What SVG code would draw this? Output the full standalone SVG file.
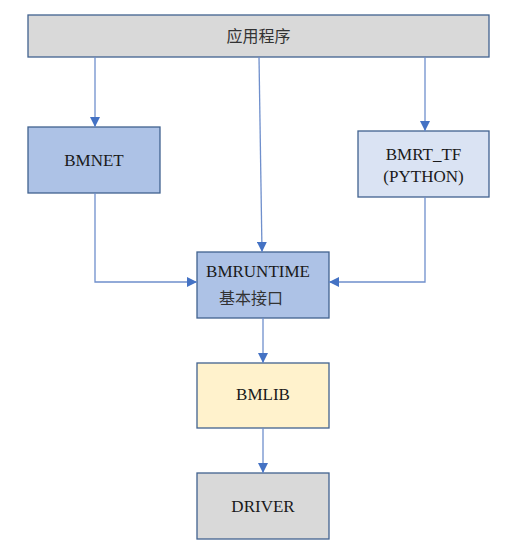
<svg xmlns="http://www.w3.org/2000/svg" width="517" height="560" viewBox="0 0 517 560">
<defs>
<marker id="arr" viewBox="0 0 10 10" refX="10" refY="5" markerWidth="10" markerHeight="10" markerUnits="userSpaceOnUse" orient="auto">
<path d="M0,0 L10,5 L0,10 z" fill="#4472c4"/>
</marker>
<style>
.box{stroke:#41628f;stroke-width:1.3}
.t{font-family:'Liberation Serif','Times New Roman',serif;font-size:17px;fill:#1a1a1a;text-anchor:middle}
.c{font-family:'Noto Sans CJK SC',sans-serif;font-size:16px;fill:#333;text-anchor:middle}
.ln{fill:none;stroke:#6f8fcc;stroke-width:1.3;marker-end:url(#arr)}
</style>
</defs>
<rect width="517" height="560" fill="#fff"/>
<g id="app"><rect class="box" x="28" y="15" width="461" height="42" fill="#d9d9d9"/><text class="c" x="258.5" y="42">应用程序</text></g>
<g id="bmnet"><rect class="box" x="28" y="127" width="132" height="66" fill="#adc2e6"/><text class="t" x="94" y="166">BMNET</text></g>
<g id="bmrt"><rect class="box" x="358" y="131" width="131" height="66" fill="#dae3f3"/><text class="t" x="423.5" y="160">BMRT_TF</text><text class="t" x="423.5" y="182">(PYTHON)</text></g>
<g id="bmruntime"><rect class="box" x="197" y="252" width="132" height="66" fill="#adc2e6"/><text class="t" x="258" y="277">BMRUNTIME</text><text class="c" x="251" y="304">基本接口</text></g>
<g id="bmlib"><rect class="box" x="197" y="363" width="132" height="65" fill="#fff2cc"/><text class="t" x="263" y="400">BMLIB</text></g>
<g id="driver"><rect class="box" x="197" y="473" width="132" height="66" fill="#d9d9d9"/><text class="t" x="263" y="512">DRIVER</text></g>
<g id="connectors">
<path class="ln" d="M95,57 V127"/>
<path class="ln" d="M425,57 V131"/>
<path class="ln" d="M259,57 L262,252"/>
<path class="ln" d="M95,193 V282 H197"/>
<path class="ln" d="M425,197 V282 H329"/>
<path class="ln" d="M263,318 V363"/>
<path class="ln" d="M263,428 V473"/>
</g>
</svg>
